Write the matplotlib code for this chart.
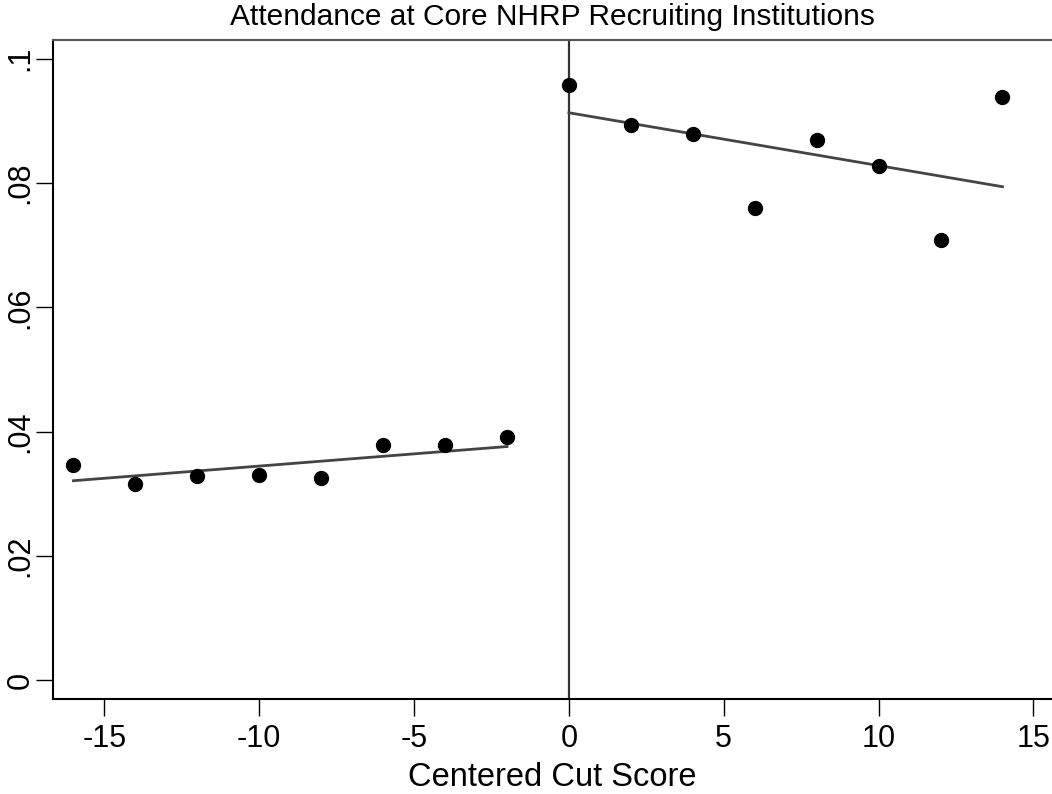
import matplotlib
matplotlib.use('Agg')
import matplotlib.pyplot as plt
import numpy as np

plt.rcParams['font.family'] = ['Liberation Sans', 'DejaVu Sans']
plt.rcParams['axes.unicode_minus'] = False

# binned means by centered cut score
score_left = [-16, -14, -12, -10, -8, -6, -4, -2]
attend_left = [0.0347, 0.0315, 0.0328, 0.0331, 0.0326, 0.0378, 0.0378, 0.0391]
score_right = [0, 2, 4, 6, 8, 10, 12, 14]
attend_right = [0.0957, 0.0893, 0.0878, 0.0759, 0.0869, 0.0828, 0.0709, 0.0939]

# fitted lines on each side of the cutoff
fit_left_x = [-16, -2]
fit_left_y = [0.0321, 0.0376]
fit_right_x = [0, 14]
fit_right_y = [0.0913, 0.0794]

fig = plt.figure(figsize=(10.52, 7.94), dpi=100)
ax = fig.add_axes([0.0507, 0.1193, 0.9493, 0.8303])

ax.axvline(0, color='#333333', lw=1.6, zorder=1)
ax.plot(fit_left_x, fit_left_y, color='#444444', lw=2, zorder=2)
ax.plot(fit_right_x, fit_right_y, color='#444444', lw=2, zorder=2)
ax.plot(score_left, attend_left, 'o', color='black', ms=10, zorder=3)
ax.plot(score_right, attend_right, 'o', color='black', ms=10, zorder=3)

ax.set_xlim(-16.65, 15.6)
ax.set_ylim(-0.00306, 0.1030)
ax.set_xticks([-15, -10, -5, 0, 5, 10, 15])
ax.set_yticks([0, 0.02, 0.04, 0.06, 0.08, 0.1])
ax.set_yticklabels(['0', '.02', '.04', '.06', '.08', '.1'], rotation=90, va='center')
ax.tick_params(direction='out', length=12, width=1, labelsize=22)
ax.tick_params(axis='x', pad=6)
ax.tick_params(axis='y', pad=1)

for s in ['left', 'bottom']:
    ax.spines[s].set_linewidth(1.5)
ax.spines['top'].set_color('#555555')
ax.spines['top'].set_linewidth(1.5)
ax.spines['right'].set_visible(False)

ax.set_xlabel('Centered Cut Score', fontsize=23.5, labelpad=5.5)
ax.set_title('Attendance at Core NHRP Recruiting Institutions', fontsize=21.5,
             y=1.0228, va='baseline', pad=0)

fig.savefig('out.png', dpi=100)
